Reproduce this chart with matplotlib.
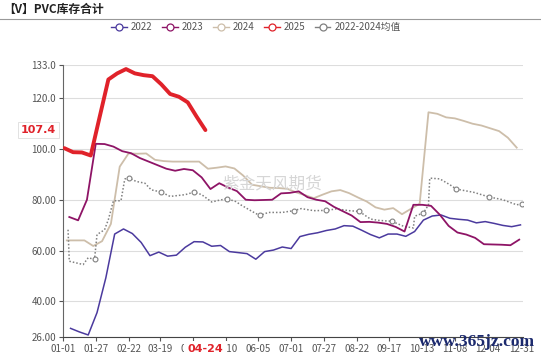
import numpy as np
import pandas as pd
import matplotlib
matplotlib.use("Agg")
import matplotlib.pyplot as plt
from matplotlib.lines import Line2D

plt.rcParams['font.family'] = ['Noto Sans CJK SC', 'DejaVu Sans']

# weekly inventory readings (10k tons), dates as month-day
start_2022 = '01-07'
inv_2022 = [29.4, 28.0, 26.8, 35.6, 49.3, 66.5, 68.5, 66.7, 63.2, 58.0, 59.4, 57.8, 58.2,
            61.3, 63.5, 63.4, 61.7, 62.0, 59.6, 59.2, 58.8, 56.6, 59.6, 60.2, 61.4, 60.8,
            65.5, 66.4, 67.0, 67.9, 68.5, 69.8, 69.6, 68.0, 66.3, 65.0, 66.5, 66.5, 65.6,
            67.5, 72.0, 73.6, 74.0, 72.7, 72.3, 72.0, 70.9, 71.4, 70.7, 69.9, 69.4, 70.1]

start_2023 = '01-06'
inv_2023 = [73.2, 71.9, 80.0, 102.0, 101.9, 100.9, 99.1, 98.3, 96.4, 95.0, 93.6, 92.2, 91.4,
            92.1, 91.6, 88.8, 84.2, 86.5, 84.8, 83.4, 80.0, 79.8, 79.9, 80.0, 82.5, 82.7,
            83.3, 81.0, 80.0, 79.4, 77.2, 75.5, 73.8, 71.2, 71.3, 71.0, 70.5, 69.3, 67.5,
            78.0, 78.0, 77.6, 74.1, 69.7, 67.1, 66.3, 65.0, 62.5, 62.4, 62.3, 62.1, 64.3]

start_2024 = '01-04'
inv_2024 = [64.0, 64.0, 64.0, 61.8, 63.7, 70.5, 93.0, 98.2, 98.1, 98.2, 95.7, 95.2, 95.0,
            95.0, 95.0, 95.0, 92.2, 92.6, 93.1, 92.3, 89.5, 85.9, 85.3, 84.7, 84.6, 84.3,
            82.9, 81.8, 80.6, 82.0, 83.3, 83.8, 82.6, 80.9, 79.3, 77.0, 76.1, 76.7, 74.3,
            76.4, 78.4, 114.4, 113.8, 112.4, 112.0, 111.0, 109.9, 109.2, 108.1, 107.0, 104.4, 100.5]

start_2025 = '01-02'
inv_2025 = [100.3, 98.7, 98.6, 97.4, 112.4, 127.3, 129.7, 131.4, 129.7, 129.0, 128.6, 125.4,
            121.6, 120.5, 118.3, 112.7, 107.4]

# 2022-2024 average, on the union of report dates
avg_dates = ['01-05', '01-06', '01-17', '01-21', '01-26', '01-28', '02-03', '02-06', '02-10',
             '02-16', '02-19', '02-22', '02-28', '03-07', '03-12', '03-20', '03-27', '04-08',
             '04-15', '04-21', '04-29', '05-04', '05-11', '05-18', '05-22', '05-31', '06-06',
             '06-13', '06-24', '07-03', '07-09', '07-19', '07-29', '08-06', '08-16', '08-24',
             '09-02', '09-08', '09-19', '09-28', '10-06', '10-07', '10-14', '10-18', '10-19',
             '10-27', '11-04', '11-09', '11-23', '12-05', '12-16', '12-27', '12-31']
avg_vals = [68.2, 55.8, 54.5, 57.2, 56.5, 66.3, 68.2, 72.2, 79.6, 79.6, 88.1, 88.7, 87.2,
            86.5, 83.9, 83.0, 81.3, 82.0, 83.0, 82.0, 79.1, 79.7, 80.4, 79.3, 78.0, 75.4, 73.8,
            75.0, 75.0, 75.7, 76.5, 75.7, 75.8, 76.4, 75.7, 75.4, 72.4, 71.9, 71.5, 69.6, 68.9,
            73.5, 74.8, 78.0, 88.5, 88.2, 85.9, 84.2, 82.9, 81.1, 80.0, 78.0, 78.4]

xtick_labels = ['01-01', '01-27', '02-22', '03-19', '04-14', '05-10', '06-05', '07-01',
                '07-27', '08-22', '09-17', '10-13', '11-08', '12-04', '12-31']
ytick_vals = [26, 40, 60, 80, 100, 120, 133]
ytick_labels = ['26.00', '40.00', '60.00', '80.00', '100.0', '120.0', '133.0']


def doy(md):
    return pd.Timestamp('2023-' + md).dayofyear - 1


def weekly(start, vals):
    return doy(start) + 7 * np.arange(len(vals))


c22, c23, c24, c25, cav = '#4B3A9E', '#8E1466', '#CDBEAA', '#E0222A', '#808080'

fig = plt.figure(figsize=(5.41, 3.57), dpi=100)
ax = fig.add_axes([63 / 541, 1 - 337 / 357, 460 / 541, 272 / 357])

ax.plot(weekly(start_2022, inv_2022), inv_2022, color=c22, lw=1.1, zorder=3)
ax.plot(weekly(start_2023, inv_2023), inv_2023, color=c23, lw=1.3, zorder=3)
ax.plot(weekly(start_2024, inv_2024), inv_2024, color=c24, lw=1.3, zorder=2)
avg_x = np.array([doy(d) for d in avg_dates])
tick_x = [doy(t) for t in xtick_labels]
mark_idx = [int(np.argmin(np.abs(avg_x - t))) for t in tick_x[1:]]
ax.plot(avg_x, avg_vals, color=cav, lw=1.1, ls=(0, (1, 1.3)), zorder=2,
        marker='o', markevery=mark_idx, ms=3.5, mfc='white', mec=cav, mew=0.8)
ax.plot(weekly(start_2025, inv_2025), inv_2025, color=c25, lw=2.8, zorder=4,
        solid_joinstyle='round', solid_capstyle='round')

ax.set_xlim(0, 365)
ax.set_ylim(26, 133)
ax.set_yticks(ytick_vals)
ax.set_yticklabels(ytick_labels)
ax.set_xticks(tick_x)
ax.set_xticklabels(xtick_labels)
ax.tick_params(axis='both', labelsize=7, colors='#555555', length=3, width=0.8)
ax.tick_params(axis='x', pad=2)
ax.tick_params(axis='y', pad=2)
ax.grid(axis='y', color='#dddddd', lw=0.8)
ax.set_axisbelow(True)
for s in ['top', 'right']:
    ax.spines[s].set_visible(False)
ax.spines['left'].set_color('#666666')
ax.spines['bottom'].set_color('#444444')

# highlighted latest value and date
ax.annotate(f'{inv_2025[-1]:.1f}', xy=(0, inv_2025[-1]), xycoords=('axes fraction', 'data'),
            xytext=(-5, 0), textcoords='offset points', ha='right', va='center',
            fontsize=8, fontweight='bold', color=c25, family='DejaVu Sans',
            bbox=dict(boxstyle='square,pad=0.25', fc='white', ec='#dddddd', lw=0.6))
ax.annotate('04-24', xy=(doy('04-24'), 0), xycoords=('data', 'axes fraction'),
            xytext=(0, -9), textcoords='offset points', ha='center', va='center',
            fontsize=8, fontweight='bold', color=c25, family='DejaVu Sans',
            bbox=dict(boxstyle='square,pad=0.35', fc='white', ec='none'), zorder=10)

# title and legend
fig.text(3 / 541, 1 - 9 / 357, '【V】PVC库存合计', fontsize=8.5, fontweight='bold',
         color='#222222', va='center', ha='left')
fig.add_artist(Line2D([0, 1], [1 - 19 / 357] * 2, color='#999999', lw=0.8))

handles = [Line2D([], [], color=c, lw=1, marker='o', ms=5, mfc='white', mec=c, mew=0.9)
           for c in [c22, c23, c24, c25, cav]]
fig.legend(handles, ['2022', '2023', '2024', '2025', '2022-2024均值'], loc='center',
           bbox_to_anchor=(256 / 541, 1 - 27 / 357), ncol=5, frameon=False, fontsize=7,
           handlelength=1.6, handletextpad=0.4, columnspacing=1.0, labelcolor='#555555')

# watermarks
fig.text(272 / 541, 1 - 184 / 357, '紫金天风期货', fontsize=12, color='#d6d6d6',
         ha='center', va='center', zorder=1)
fig.text(477 / 541, 1 - 342 / 357, 'www.365jz.com', fontsize=12.5, fontweight='bold',
         family='Liberation Serif', color='#1c2a6e', ha='center', va='center', zorder=20)

fig.savefig('out.png', dpi=100)
